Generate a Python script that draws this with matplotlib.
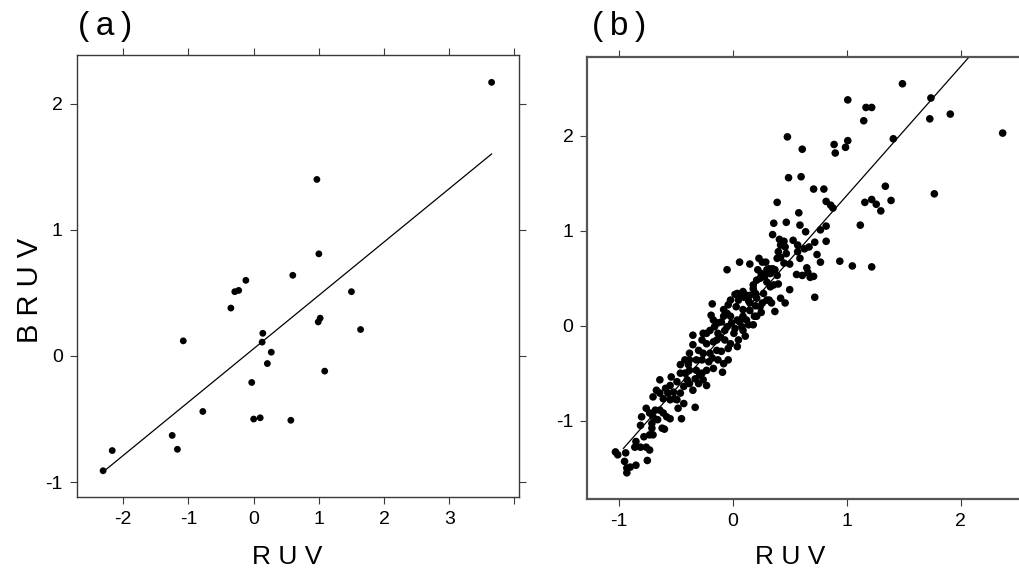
"""
Scatter of BRUV against RUV for two data sets, with fitted lines.
"""
# ----------------------------------------------------------------
# Imports
# ----------------------------------------------------------------
import numpy as np
import matplotlib
matplotlib.use("Agg")
import matplotlib.pyplot as plt

# ----------------------------------------------------------------
# Data
# ----------------------------------------------------------------
# panel (a)
RUV_A = [3.65, 0.97, 1.00, 0.60, -0.12, -0.29, -0.23, -0.35, 1.50, 1.02,
         0.99, 1.64, -1.08, 0.14, 0.13, 0.27, 0.21, 1.09, -0.03, -0.78,
         0.00, 0.10, 0.57, -1.25, -1.17, -2.17, -2.31]
BRUV_A = [2.17, 1.40, 0.81, 0.64, 0.60, 0.51, 0.52, 0.38, 0.51, 0.30,
          0.27, 0.21, 0.12, 0.18, 0.11, 0.03, -0.06, -0.12, -0.21, -0.44,
          -0.50, -0.49, -0.51, -0.63, -0.74, -0.75, -0.91]

# panel (b)
RUV_B = [
    1.49, 1.01, 1.17, 1.22, 1.15, 1.74, 1.73, 1.91, 2.37, 0.48,
    1.41, 1.01, 0.99, 0.89, 0.90, 0.61, 0.49, 0.60, 0.71, 0.80,
    1.34, 1.77, 1.16, 1.22, 1.26, 1.39, 1.30, 0.39, 0.82, 0.86,
    0.88, 0.58, 0.36, 0.47, 0.59, 0.64, 0.77, 0.82, 1.12, 0.35,
    0.41, 0.45, 0.53, 0.42, 0.40, 0.46, 0.57, 0.72, 0.82, 0.67,
    0.63, 0.57, 0.59, 0.74, 0.77, 0.94, 1.05, 1.22, 0.50, 0.39,
    0.42, 0.32, 0.65, 0.66, 0.71, 0.68, 0.56, 0.61, 0.50, 0.72,
    0.46, 0.42, 0.39, 0.40, 0.23, 0.26, 0.29, 0.06, -0.05, 0.15,
    0.22, 0.25, 0.30, 0.35, 0.28, 0.24, 0.18, 0.30, 0.36, 0.34,
    0.30, 0.37, 0.32, 0.25, 0.20, 0.21, 0.15, 0.18, 0.09, 0.12,
    0.14, 0.10, 0.05, 0.02, -0.02, -0.18, 0.03, -0.04, -0.08, 0.09,
    0.15, 0.19, 0.18, 0.08, 0.04, -0.02, -0.08, -0.19, -0.05, 0.01,
    0.11, 0.04, 0.05, -0.02, -0.11, -0.16, -0.07, -0.13, -0.20, -0.26,
    -0.35, -0.35, -0.23, -0.17, -0.14, -0.20, -0.26, -0.32, -0.38, -0.04,
    -0.08, -0.09, -0.13, -0.17, -0.23, -0.27, -0.32, -0.38, -0.42, -0.46,
    -0.40, -0.35, -0.30, -0.26, -0.23, -0.29, -0.33, -0.38, -0.43, -0.46,
    -0.54, -0.55, -0.52, -0.57, -0.59, -0.64, -0.64, -0.61, -0.55, -0.51,
    -0.48, -0.45, -0.33, -0.64, -0.68, -0.73, -0.76, -0.70, -0.66, -0.61,
    -0.58, -0.55, -0.62, -0.60, -0.71, -0.71, -0.70, -0.73, -0.80, -0.81,
    -0.78, -0.85, -0.86, -0.81, -0.76, -0.73, -0.75, -0.94, -1.03, -1.01,
    -0.95, -0.93, -0.93, -0.85, -0.90, -0.67, -0.70, -0.49, -0.43, -0.17,
    -0.13, -0.10, -0.05, -0.01, 0.02, 0.06, 0.12, 0.09, 0.15, 0.20,
    0.06, 0.04, -0.04, -0.10, -0.14, -0.23, -0.27, -0.30, -0.38, -0.42,
    -0.46, -0.49, -0.39, -0.27, -0.21, -0.18, -0.07, 0.09, 0.14, 0.21,
    0.24, 0.26, 0.27, 0.21, 0.33, 0.37, 0.45, 0.47, 0.33,
]
BRUV_B = [
    2.55, 2.38, 2.30, 2.30, 2.16, 2.40, 2.18, 2.23, 2.03, 1.99,
    1.97, 1.95, 1.88, 1.91, 1.82, 1.86, 1.56, 1.57, 1.44, 1.44,
    1.47, 1.39, 1.30, 1.33, 1.28, 1.32, 1.21, 1.30, 1.31, 1.27,
    1.24, 1.19, 1.08, 1.09, 1.06, 0.99, 1.01, 1.05, 1.06, 0.96,
    0.91, 0.89, 0.90, 0.85, 0.78, 0.83, 0.85, 0.88, 0.89, 0.83,
    0.81, 0.78, 0.71, 0.75, 0.67, 0.68, 0.63, 0.62, 0.65, 0.71,
    0.72, 0.60, 0.61, 0.56, 0.52, 0.51, 0.54, 0.53, 0.38, 0.30,
    0.24, 0.29, 0.53, 0.44, 0.71, 0.67, 0.67, 0.67, 0.59, 0.65,
    0.59, 0.55, 0.59, 0.60, 0.52, 0.50, 0.43, 0.46, 0.43, 0.24,
    0.27, 0.15, 0.27, 0.14, 0.21, 0.29, 0.32, 0.39, 0.36, 0.32,
    0.26, 0.30, 0.27, 0.33, 0.27, 0.23, 0.20, 0.22, 0.17, 0.17,
    0.16, 0.10, 0.01, -0.01, 0.06, 0.10, 0.10, 0.11, -0.01, -0.08,
    -0.11, -0.22, -0.15, -0.19, -0.12, -0.01, -0.05, -0.08, -0.05, -0.08,
    -0.10, -0.20, -0.19, -0.17, -0.26, -0.29, -0.29, -0.36, -0.36, -0.36,
    -0.40, -0.49, -0.36, -0.45, -0.47, -0.50, -0.47, -0.47, -0.50, -0.41,
    -0.57, -0.68, -0.61, -0.57, -0.63, -0.52, -0.56, -0.61, -0.64, -0.71,
    -0.54, -0.63, -0.70, -0.71, -0.66, -0.57, -0.71, -0.77, -0.78, -0.77,
    -0.87, -0.98, -0.86, -0.89, -0.89, -0.92, -0.87, -0.96, -0.99, -0.92,
    -0.96, -0.98, -1.08, -1.09, -1.03, -1.08, -1.15, -1.15, -0.96, -1.05,
    -1.17, -1.22, -1.28, -1.28, -1.28, -1.31, -1.42, -1.34, -1.33, -1.36,
    -1.43, -1.50, -1.55, -1.47, -1.49, -0.68, -0.75, -0.78, -0.82, 0.06,
    0.03, 0.04, 0.13, 0.03, -0.03, 0.04, 0.06, 0.10, 0.24, 0.34,
    0.31, 0.34, -0.24, -0.27, -0.15, -0.08, -0.15, -0.26, -0.29, -0.36,
    -0.50, -0.59, -0.41, -0.36, -0.38, -0.34, -0.15, -0.05, 0.01, 0.10,
    0.20, 0.24, 0.34, 0.48, 0.55, 0.59, 0.66, 0.76, 0.41,
]

# fitted lines: intercept, slope, x start, x end
FIT_A = (0.058, 0.423, -2.31, 3.65)
FIT_B = (0.012, 1.359, -0.96, 2.37)

XTICKS_A = [-2, -1, 0, 1, 2, 3, 4]
XTICKLABELS_A = ["-2", "-1", "0", "1", "2", "3", ""]
XTICKS_B = [-1, 0, 1, 2]
YTICKS = [-1, 0, 1, 2]

# ----------------------------------------------------------------
# Style
# ----------------------------------------------------------------
plt.rcParams["font.family"] = ["Liberation Sans", "DejaVu Sans"]
FRAME = "#3a3a3a"


def style_axes(ax, xticks, xlabels, spine_lw=1.0, spine_col=FRAME):
    for sp in ax.spines.values():
        sp.set_linewidth(spine_lw)
        sp.set_color(spine_col)
    ax.set_xticks(xticks)
    ax.set_xticklabels(xlabels)
    ax.set_yticks(YTICKS)
    ax.set_yticklabels([str(t) for t in YTICKS])
    ax.tick_params(direction="out", length=5, width=0.8, color=FRAME,
                   labelsize=14, pad=5, top=True, right=True,
                   labeltop=False, labelright=False)


def draw_fit(ax, fit):
    b0, b1, x0, x1 = fit
    xs = np.array([x0, x1])
    ax.plot(xs, b0 + b1 * xs, color="black", linewidth=0.9)


# ----------------------------------------------------------------
# Figure
# ----------------------------------------------------------------
fig = plt.figure(figsize=(10.2, 5.71), dpi=100)

# --- panel (a) ---
ax_a = fig.add_axes([0.0752, 0.1301, 0.4336, 0.7736])
ax_a.scatter(RUV_A, BRUV_A, s=24, color="black", edgecolors="none", zorder=3)
draw_fit(ax_a, FIT_A)
ax_a.set_xlim(-2.715, 4.07)
ax_a.set_ylim(-1.116, 2.387)
style_axes(ax_a, XTICKS_A, XTICKLABELS_A)

# --- panel (b), right frame runs past the page edge ---
ax_b = fig.add_axes([0.5758, 0.1261, 0.434, 0.7746])
ax_b.scatter(RUV_B, BRUV_B, s=30, color="black", edgecolors="none", zorder=3)
draw_fit(ax_b, FIT_B)
ax_b.set_xlim(-1.277, 2.61)
ax_b.set_ylim(-1.826, 2.835)
style_axes(ax_b, XTICKS_B, [str(t) for t in XTICKS_B],
           spine_lw=1.6, spine_col="#555555")

# --- labels ---
fig.text(78 / 1020, 1 - 27 / 571, "(\u2009a\u2009)", fontsize=24,
         ha="left", va="center")
fig.text(592 / 1020, 1 - 27 / 571, "(\u2009b\u2009)", fontsize=24,
         ha="left", va="center")
fig.text(287 / 1020, 1 - 557 / 571, "R U V", fontsize=19,
         ha="center", va="center")
fig.text(790 / 1020, 1 - 557 / 571, "R U V", fontsize=19,
         ha="center", va="center")
fig.text(30 / 1020, 1 - 290 / 571, "B R U V", fontsize=21, rotation=90,
         ha="center", va="center")

fig.savefig("out.png", dpi=100)
plt.close(fig)
